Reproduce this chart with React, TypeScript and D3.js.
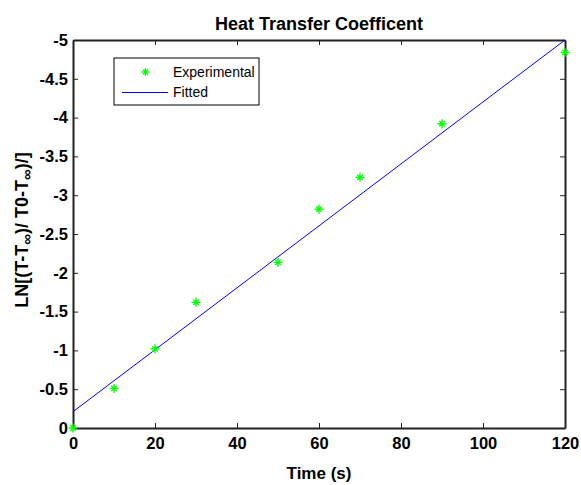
import { useEffect, useRef } from "react";
import * as d3 from "d3";

// measured points (time in s, log ratio)
const timeS = [0, 10, 20, 30, 50, 60, 70, 90, 120];
const lnRatio = [0, -0.51, -1.02, -1.62, -2.135, -2.82, -3.23, -3.92, -4.84];

// fitted line endpoints
const fitTime = [0, 120];
const fitLn = [-0.21, -5.0];

const xTicks = [0, 20, 40, 60, 80, 100, 120];
const yTicks = [0, -0.5, -1, -1.5, -2, -2.5, -3, -3.5, -4, -4.5, -5];

const W = 581;
const H = 485;
const FONT = "Arial, 'Liberation Sans', Helvetica, sans-serif";

export default function App() {
  const svgRef = useRef<SVGSVGElement>(null);

  useEffect(() => {
    document.body.style.margin = "0";
    document.body.style.overflow = "hidden";

    const svg = d3.select(svgRef.current);
    svg.selectAll("*").remove();

    const margin = { top: 40, right: 16, bottom: 57, left: 73 };
    const w = W - margin.left - margin.right;
    const h = H - margin.top - margin.bottom;

    const g = svg.append("g").attr("transform", `translate(${margin.left},${margin.top})`);

    const x = d3.scaleLinear().domain([0, 120]).range([0, w]);
    // reversed: 0 at bottom, -5 at top
    const y = d3.scaleLinear().domain([0, -5]).range([h, 0]);

    const tickLen = 5;
    const fmt = (v: number) => String(v);

    // bottom axis
    const bottom = g.append("g").attr("transform", `translate(0,${h})`)
      .call(d3.axisBottom(x).tickValues(xTicks).tickSizeInner(-tickLen).tickSizeOuter(0).tickPadding(9).tickFormat(fmt as any));
    // left axis
    const left = g.append("g")
      .call(d3.axisLeft(y).tickValues(yTicks).tickSizeInner(-tickLen).tickSizeOuter(0).tickPadding(5).tickFormat(fmt as any));
    // top and right ticks (box)
    const top = g.append("g")
      .call(d3.axisTop(x).tickValues(xTicks).tickSizeInner(-tickLen).tickSizeOuter(0).tickFormat(() => ""));
    const right = g.append("g").attr("transform", `translate(${w},0)`)
      .call(d3.axisRight(y).tickValues(yTicks).tickSizeInner(-tickLen).tickSizeOuter(0).tickFormat(() => ""));

    [bottom, left, top, right].forEach(a => {
      a.selectAll("path.domain").attr("stroke", "#222").attr("stroke-width", 2);
      a.selectAll(".tick line").attr("stroke", "#222").attr("stroke-width", 1);
      a.selectAll("text")
        .attr("font-family", FONT)
        .attr("font-weight", "bold")
        .attr("font-size", 16.5)
        .attr("fill", "#000");
    });

    // fitted line
    const fitPts = fitTime.map((t, i) => [t, fitLn[i]] as [number, number]);
    g.append("path")
      .datum(fitPts)
      .attr("fill", "none")
      .attr("stroke", "#0000ff")
      .attr("stroke-width", 1)
      .attr("d", d3.line<[number, number]>().x(d => x(d[0])).y(d => y(d[1])));

    // asterisk markers
    const star = (sel: d3.Selection<SVGGElement, unknown, null, undefined>, cx: number, cy: number, r: number) => {
      const s = sel.append("g").attr("transform", `translate(${cx},${cy})`).attr("stroke", "#00ff00").attr("stroke-width", 1.4);
      s.append("line").attr("x1", -r).attr("x2", r).attr("y1", 0).attr("y2", 0);
      s.append("line").attr("x1", 0).attr("x2", 0).attr("y1", -r).attr("y2", r);
      const d = r * 0.6;
      s.append("line").attr("x1", -d).attr("x2", d).attr("y1", -d).attr("y2", d);
      s.append("line").attr("x1", -d).attr("x2", d).attr("y1", d).attr("y2", -d);
    };
    const pts = g.append("g");
    timeS.forEach((t, i) => star(pts as any, x(t), y(lnRatio[i]), 4.5));

    // legend
    const lg = svg.append("g").attr("transform", "translate(114,58)");
    lg.append("rect").attr("x", 0).attr("y", 0).attr("width", 145).attr("height", 47)
      .attr("fill", "#fff").attr("stroke", "#000").attr("stroke-width", 1);
    star(lg as any, 31.5, 14, 4);
    lg.append("line").attr("x1", 8).attr("x2", 54).attr("y1", 34.5).attr("y2", 34.5)
      .attr("stroke", "#0000ff").attr("stroke-width", 1);
    const legendText = ["Experimental", "Fitted"];
    legendText.forEach((t, i) => {
      lg.append("text").attr("x", 59).attr("y", 14 + i * 20.5).attr("dy", "0.35em")
        .attr("font-family", FONT).attr("font-size", 14).attr("fill", "#000").text(t);
    });

    // title
    svg.append("text")
      .attr("x", margin.left + w / 2).attr("y", 30)
      .attr("text-anchor", "middle")
      .attr("font-family", FONT).attr("font-weight", "bold").attr("font-size", 18)
      .text("Heat Transfer Coefficent");

    // x label
    svg.append("text")
      .attr("x", margin.left + w / 2).attr("y", 479)
      .attr("text-anchor", "middle")
      .attr("font-family", FONT).attr("font-weight", "bold").attr("font-size", 17)
      .text("Time (s)");

    // y label with subscripts
    const yl = svg.append("text")
      .attr("transform", `translate(28,${margin.top + h / 2 - 4}) rotate(-90)`)
      .attr("text-anchor", "middle")
      .attr("font-family", FONT).attr("font-weight", "bold").attr("font-size", 18);
    const parts: [string, boolean][] = [
      ["LN[(T-T", false], ["\u221e", true], [")/ T0-T", false], ["\u221e", true], [")/]", false],
    ];
    parts.forEach(([txt, sub]) => {
      yl.append("tspan")
        .attr("baseline-shift", sub ? "-25%" : null)
        .attr("font-size", sub ? 15 : 18)
        .text(txt);
    });
  }, []);

  return (
    <svg ref={svgRef} width={W} height={H} style={{ display: "block", background: "#fff" }} />
  );
}
